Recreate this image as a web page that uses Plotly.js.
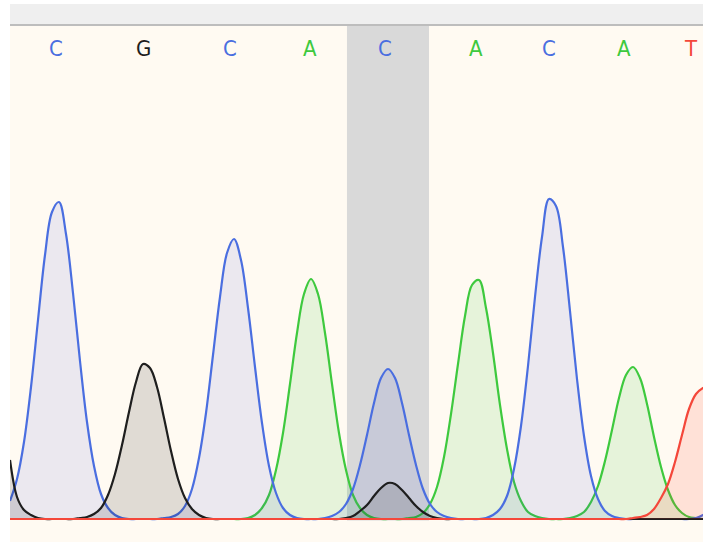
<!DOCTYPE html>
<html>
<head>
<meta charset="utf-8">
<script src="https://cdn.plot.ly/plotly-3.0.1.min.js"></script>
<style>html,body{margin:0;padding:0;background:#fff;}#chart{width:703px;height:542px;}</style>
</head>
<body>
<div id="chart"></div>
<script>
// Trace intensities, one value per scan (scan 0 = left edge of the view)
const traceC = [18,40,77,132,199,264,307,317,285,226,158,97,53,25,11,4,1,0,0,0,0,0,1,2,5,13,30,61,106,164,222,266,280,259,211,152,96,53,26,11,4,1,0,0,0,1,3,7,15,30,54,84,116,141,150,141,116,84,54,30,15,7,3,1,0,0,0,0,1,4,10,23,50,93,153,222,282,320,313,272,208,140,83,43,20,8,3,1,0,0,0,0,0,0,0,0,0,0,1,4,9,18];
const traceA = [0,0,0,0,0,0,0,0,0,0,0,0,0,0,0,0,0,0,0,0,0,0,0,0,0,0,0,0,0,0,0,0,0,0,1,4,11,24,49,86,135,186,225,240,225,186,135,86,49,24,11,4,1,0,0,0,0,1,2,6,15,32,62,105,155,203,234,239,211,166,114,70,37,18,7,3,1,0,0,0,1,3,7,17,33,58,89,121,144,152,141,115,82,52,29,14,6,2,1,0,0,0];
const traceG = [59,22,9,4,1,0,0,0,0,0,1,2,5,11,24,45,74,107,137,155,151,132,101,68,40,21,10,4,1,0,0,0,0,0,0,0,0,0,0,0,0,0,0,0,0,0,0,0,1,3,8,14,23,31,36,35,29,21,13,7,3,1,0,0,0,0,0,0,0,0,0,0,0,0,0,0,0,0,0,0,0,0,0,0,0,0,0,0,0,0,0,0,0,0,0,0,0,0,0,0,0,0];
const traceT = [0,0,0,0,0,0,0,0,0,0,0,0,0,0,0,0,0,0,0,0,0,0,0,0,0,0,0,0,0,0,0,0,0,0,0,0,0,0,0,0,0,0,0,0,0,0,0,0,0,0,0,0,0,0,0,0,0,0,0,0,0,0,0,0,0,0,0,0,0,0,0,0,0,0,0,0,0,0,0,0,0,0,0,0,0,0,0,0,0,1,2,4,10,21,35,57,84,110,125,131,134,133];

// Base calls and their scan positions
const baseCalls = ['C','G','C','A','C','A','C','A','T'];
const baseScans = [6.6, 19.1, 31.4, 42.9, 53.6, 66.6, 77.0, 87.7, 97.3];
const selectedRange = [48.14, 59.86];

const lineColors = {A:'#3ec93e', C:'#4a6ee0', G:'#1e1e1e', T:'#f4473a'};
const fillColors = {A:'rgba(50,200,50,0.12)', C:'rgba(60,80,220,0.10)', G:'rgba(0,0,0,0.12)', T:'rgba(255,60,40,0.13)'};

const scans = traceC.map((v, i) => i);

function mk(name, ys) {
  return {
    type: 'scatter', mode: 'lines', name: name,
    x: scans, y: ys,
    line: {color: lineColors[name], width: 2.2, shape: 'spline', smoothing: 1},
    fill: 'tozeroy', fillcolor: fillColors[name],
    hoverinfo: 'skip'
  };
}

const data = [mk('A', traceA), mk('C', traceC), mk('G', traceG), mk('T', traceT)];

const annotations = baseCalls.map((b, i) => ({
  x: baseScans[i], xref: 'x', y: 0.957, yref: 'paper',
  text: b, showarrow: false, xanchor: 'center', yanchor: 'middle',
  font: {family: 'Liberation Sans Narrow, DejaVu Sans Condensed, Liberation Sans, Arial', size: 22, color: lineColors[b]}
}));

const layout = {
  width: 703, height: 542,
  margin: {l: 10, r: 0, t: 26, b: 0, pad: 0},
  paper_bgcolor: '#ffffff',
  plot_bgcolor: '#fffaf2',
  showlegend: false,
  xaxis: {range: [0, 99], visible: false, fixedrange: true},
  yaxis: {range: [-23, 493], visible: false, fixedrange: true},
  shapes: [
    {type: 'rect', xref: 'x', yref: 'y', x0: selectedRange[0], x1: selectedRange[1], y0: -1.5, y1: 493,
     fillcolor: '#d9d9d9', line: {width: 0}, layer: 'below'},
    {type: 'rect', xref: 'paper', yref: 'paper', x0: 0, x1: 1, y0: 1.0039, y1: 1.0426,
     fillcolor: '#efefef', line: {width: 0}, layer: 'above'},
    {type: 'rect', xref: 'paper', yref: 'paper', x0: 0, x1: 1, y0: 1.0, y1: 1.0039,
     fillcolor: '#bdbdbd', line: {width: 0}, layer: 'above'}
  ],
  annotations: annotations
};

Plotly.newPlot('chart', data, layout, {displayModeBar: false, staticPlot: true});
</script>
</body>
</html>
